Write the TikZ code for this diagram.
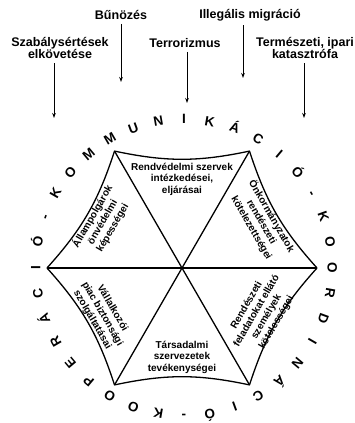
\documentclass[tikz,border=0pt]{standalone}
\usepackage{fontspec}
\setmainfont{Liberation Sans}
\usetikzlibrary{arrows.meta,calc}
\begin{document}
\begin{tikzpicture}[x=1pt,y=1pt,
  hdr/.style={font=\fontsize{12.5}{10.5}\selectfont\bfseries, align=center, inner sep=0pt},
  sect/.style={font=\fontsize{10}{11.5}\selectfont\bfseries, align=center, inner sep=0pt},
  ring/.style={font=\fontsize{13.5}{13.5}\selectfont\bfseries, inner sep=0pt, text height=9.7pt, text depth=0pt},
  arr/.style={-{Stealth[length=5pt,width=3.6pt]}, line width=0.9pt},
  hexedge/.style={line width=1.3pt, line join=round}]
\useasboundingbox (0,0) rectangle (355,423);
% headers and arrows
\node[hdr] (h1) at (60,375) {Szabálysértések\\elkövetése};
\node[hdr] (h2) at (121,408) {Bűnözés};
\node[hdr] (h3) at (185,380) {Terrorizmus};
\node[hdr] (h4) at (250,408) {Illegális migráció};
\node[hdr] (h5) at (305,375) {Természeti, ipari\\katasztrófa};
\coordinate (t1) at (54,305);
\coordinate (t2) at (121,341);
\coordinate (t3) at (187,320);
\coordinate (t4) at (243,345);
\coordinate (t5) at (304,305);
\draw[arr] ($(h1.south -| t1)+(0,-4)$) -- (t1);
\draw[arr] ($(h2.south -| t2)+(0,-4)$) -- (t2);
\draw[arr] ($(h3.south -| t3)+(0,-4)$) -- (t3);
\draw[arr] ($(h4.south -| t4)+(0,-4)$) -- (t4);
\draw[arr] ($(h5.south -| t5)+(0,-4)$) -- (t5);
% hexagon
\coordinate (C) at (182,155);
\foreach \k in {0,...,5} {\coordinate (v\k) at ($(C)+(60*\k:135)$);}
\draw[hexedge] (v0) to[bend left=12] (v1) to[bend left=12] (v2) to[bend left=12] (v3)
  to[bend left=12] (v4) to[bend left=12] (v5) to[bend left=12] (v0);
\draw[hexedge] (v0) -- (v3);
\draw[hexedge] (v1) -- (v4);
\draw[hexedge] (v2) -- (v5);
% sector texts
\node[sect] (s1) at ($(C)+(90:89)$) {Rendvédelmi szervek\\intézkedései,\\eljárásai};
\node[sect, rotate=-60] (s2) at ($(C)+(30:92)$) {Önkormányzatok\\rendészeti\\kötelezettségei};
\node[sect, rotate=60] (s3) at ($(C)+(-30:92)$) {Rendészeti\\feladatokat ellátó\\személyek\\kötelességei};
\node[sect] (s4) at ($(C)+(-90:89)$) {Társadalmi\\szervezetek\\tevékenységei};
\node[sect, rotate=-60] (s5) at ($(C)+(210:92)$) {Vállalkozói\\piac biztonsági\\szolgáltatásai};
\node[sect, rotate=60] (s6) at ($(C)+(150:92)$) {Állampolgárok\\önvédelmi\\képességei};
% ring of letters
\coordinate (RC) at (184,155.5);
\foreach \ch [count=\i from 0] in {I,K,Á,C,I,Ó,-,K,O,O,R,D,I,N,Á,C,I,Ó,-,K,O,O,P,E,R,Á,C,I,Ó,-,K,O,M,M,U,N} {
  \pgfmathsetmacro\ang{90-10*\i}
  \node[ring, rotate=\ang-90] (r\i) at ($(RC)+(\ang:148.5)$) {\ch};
}
\end{tikzpicture}
\end{document}
